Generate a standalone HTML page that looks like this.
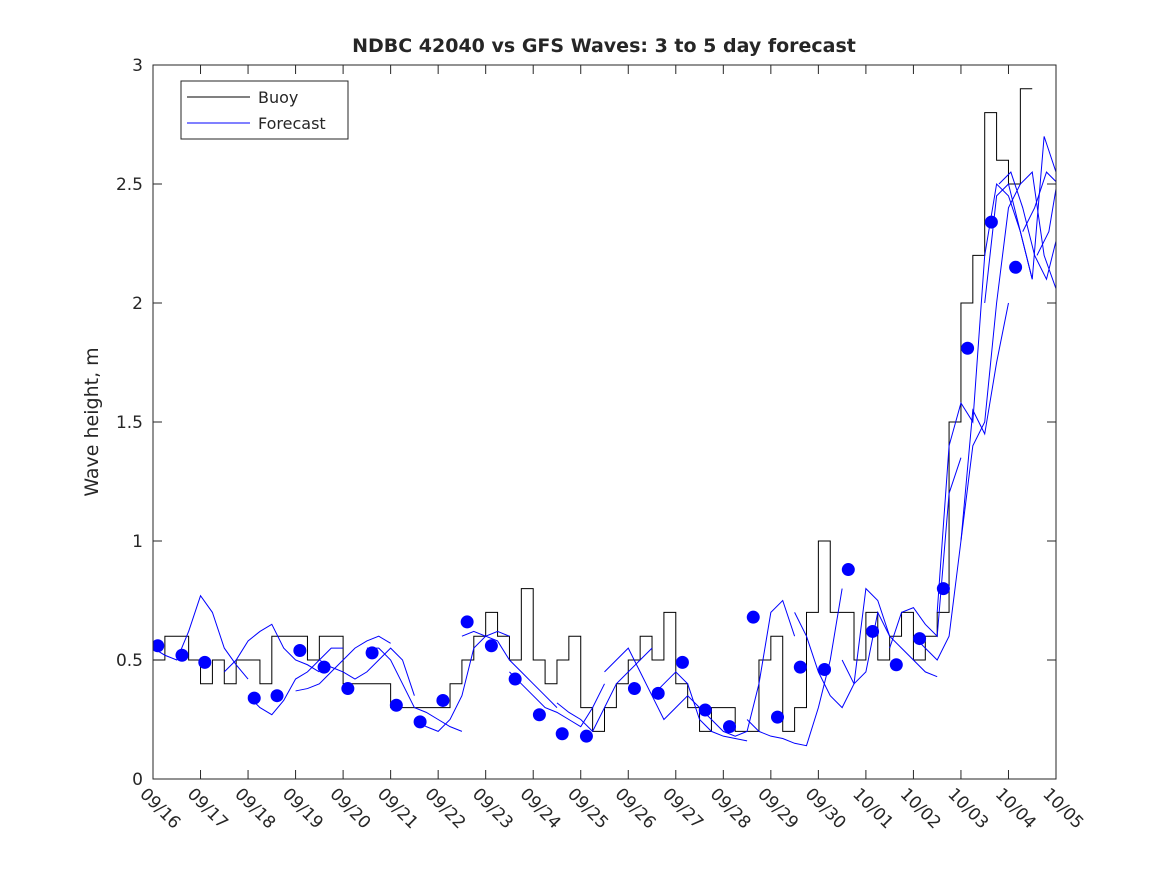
<!DOCTYPE html>
<html><head><meta charset="utf-8"><style>
body{margin:0;background:#fff;}
svg text{font-family:"DejaVu Sans","Liberation Sans",sans-serif;fill:#262626;}
</style></head><body>
<svg id="chart" width="1167" height="875" xmlns="http://www.w3.org/2000/svg">
<defs><clipPath id="clip"><rect x="153" y="65" width="903" height="714"/></clipPath></defs>
<rect width="1167" height="875" fill="#fff"/>
<text x="604" y="52" text-anchor="middle" font-size="19" font-weight="bold" fill="#000">NDBC 42040 vs GFS Waves: 3 to 5 day forecast</text>
<text transform="translate(98,422) rotate(-90)" text-anchor="middle" font-size="19">Wave height, m</text>
<g id="axes"></g>
<g id="plot" clip-path="url(#clip)"></g>
<rect x="153" y="65" width="903" height="714" fill="none" stroke="#262626" stroke-width="1"/>
<g>
<rect x="181" y="81" width="167" height="58" fill="#fff" stroke="#262626"/>
<line x1="187" y1="97" x2="250" y2="97" stroke="#000"/>
<text x="258" y="103" font-size="16" fill="#000">Buoy</text>
<line x1="187" y1="123" x2="250" y2="123" stroke="#0000ff"/>
<text x="258" y="129" font-size="16" fill="#000">Forecast</text>
</g>
</svg>
<script>
const xTicks=["09/16","09/17","09/18","09/19","09/20","09/21","09/22","09/23","09/24","09/25","09/26","09/27","09/28","09/29","09/30","10/01","10/02","10/03","10/04","10/05"];
const yTicks=[0,0.5,1,1.5,2,2.5,3];
const buoy=[0.5,0.6,0.6,0.5,0.4,0.5,0.4,0.5,0.5,0.4,0.6,0.6,0.6,0.5,0.6,0.6,0.4,0.4,0.4,0.4,0.3,0.3,0.3,0.3,0.3,0.4,0.5,0.6,0.7,0.6,0.5,0.8,0.5,0.4,0.5,0.6,0.3,0.2,0.3,0.4,0.5,0.6,0.5,0.7,0.4,0.3,0.2,0.3,0.3,0.2,0.2,0.5,0.6,0.2,0.3,0.7,1.0,0.7,0.7,0.5,0.7,0.5,0.6,0.7,0.5,0.6,0.7,1.5,2.0,2.2,2.8,2.6,2.5,2.9];
const fcStarts=[0,1.5,2,3,3.5,4.5,5.5,6.5,7.5,8.5,9.5,10.5,11.5,12.5,13.5,14.5,15.5,16,16.5,17,17.5,17.8,18.3,18.6];
const fcValues=[
[0.55,0.52,0.5,0.62,0.77,0.7,0.55,0.48,0.42],
[0.45,0.5,0.58,0.62,0.65,0.55,0.5,0.48,0.45],
[0.35,0.3,0.27,0.33,0.42,0.45,0.5,0.55,0.55],
[0.37,0.38,0.4,0.45,0.5,0.55,0.58,0.6,0.57],
[0.5,0.47,0.45,0.42,0.45,0.5,0.55,0.5,0.35],
[0.55,0.55,0.5,0.4,0.3,0.28,0.25,0.22,0.2],
[0.25,0.22,0.2,0.25,0.35,0.55,0.6,0.62,0.6],
[0.6,0.62,0.6,0.58,0.5,0.45,0.4,0.35,0.3],
[0.45,0.4,0.35,0.3,0.28,0.25,0.22,0.3,0.4],
[0.32,0.28,0.25,0.2,0.3,0.4,0.45,0.5,0.55],
[0.45,0.5,0.55,0.45,0.35,0.25,0.3,0.35,0.3],
[0.35,0.4,0.45,0.4,0.25,0.2,0.18,0.17,0.16],
[0.3,0.25,0.2,0.18,0.2,0.4,0.7,0.75,0.6],
[0.25,0.2,0.18,0.17,0.15,0.14,0.3,0.5,0.8],
[0.7,0.6,0.45,0.35,0.3,0.4,0.8,0.75,0.6],
[0.5,0.4,0.45,0.7,0.6,0.55,0.5,0.45,0.43],
[0.55,0.7,0.72,0.65,0.6,1.2,1.35],
[0.6,0.55,0.5,0.6,1.0,1.55,1.45,1.75,2.0],
[0.7,1.4,1.58,1.5,2.2,2.5,2.45,2.3,2.1],
[1.0,1.4,1.5,2.0,2.4,2.5,2.55,2.2,2.06],
[2.0,2.45,2.5,2.3,2.1,2.7,2.55],
[2.5,2.55,2.4,2.2,2.1,2.3,2.55,2.5,2.35],
[2.3,2.4,2.55,2.5,2.35,2.28,2.4,2.43],
[2.2,2.3,2.6,2.65,2.78]];
const dotDays=[0.1,0.61,1.09,2.13,2.61,3.09,3.6,4.1,4.61,5.12,5.62,6.1,6.61,7.12,7.62,8.13,8.61,9.12,10.13,10.63,11.14,11.62,12.13,12.63,13.14,13.62,14.13,14.63,15.14,15.64,16.13,16.63,17.14,17.64,18.15];
const dotValues=[0.56,0.52,0.49,0.34,0.35,0.54,0.47,0.38,0.53,0.31,0.24,0.33,0.66,0.56,0.42,0.27,0.19,0.18,0.38,0.36,0.49,0.29,0.22,0.68,0.26,0.47,0.46,0.88,0.62,0.48,0.59,0.80,1.81,2.34,2.15];

const X0=153,X1=1056,Y0=779,Y1=65;
const xs=d=>X0+d*(X1-X0)/19;
const ys=v=>Y0-v*(Y0-Y1)/3;
const NS="http://www.w3.org/2000/svg";
const g=document.getElementById('plot');
const ga=document.getElementById('axes');
function mk(t,a,p){const e=document.createElementNS(NS,t);for(const k in a)e.setAttribute(k,a[k]);(p||g).appendChild(e);return e;}
xTicks.forEach((lab,i)=>{
 const x=xs(i);
 const t=mk('line',{x1:x,y1:Y0,x2:x,y2:Y0-9,stroke:'#262626'},ga);
 
 
 const t2=mk('line',{x1:x,y1:Y1,x2:x,y2:Y1+9,stroke:'#262626'},ga);
 
 
 const tx=mk('text',{transform:`translate(${x-14},${Y0+16}) rotate(45)`,'font-size':17},ga);
 tx.textContent=lab;
 
 
});
yTicks.forEach(v=>{
 const y=ys(v);
 const t=mk('line',{x1:X0,y1:y,x2:X0+9,y2:y,stroke:'#262626'},ga);
 
 
 const t2=mk('line',{x1:X1,y1:y,x2:X1-9,y2:y,stroke:'#262626'},ga);
 
 
 const tx=mk('text',{x:X0-10,y:y+6,'text-anchor':'end','font-size':17},ga);
 tx.textContent=String(v);
 
 
});
let d='';
buoy.forEach((v,i)=>{const x0=xs(i*0.25),x1=xs((i+1)*0.25);d+=(i?'L':'M')+x0+','+ys(v)+'L'+x1+','+ys(v);});
const bl=mk('path',{d:d,fill:'none',stroke:'#000','stroke-width':1});


fcStarts.forEach((s,k)=>{
 const p=fcValues[k].map((v,i)=>(i?'L':'M')+xs(s+i*0.25)+','+ys(v)).join('');
 const l=mk('path',{d:p,fill:'none',stroke:'#0000ff','stroke-width':1});
 
 
});
dotDays.forEach((dd,i)=>{
 const c=mk('circle',{cx:xs(dd),cy:ys(dotValues[i]),r:6.5,fill:'#0000ff'});
 
 
});
</script>
</body></html>
